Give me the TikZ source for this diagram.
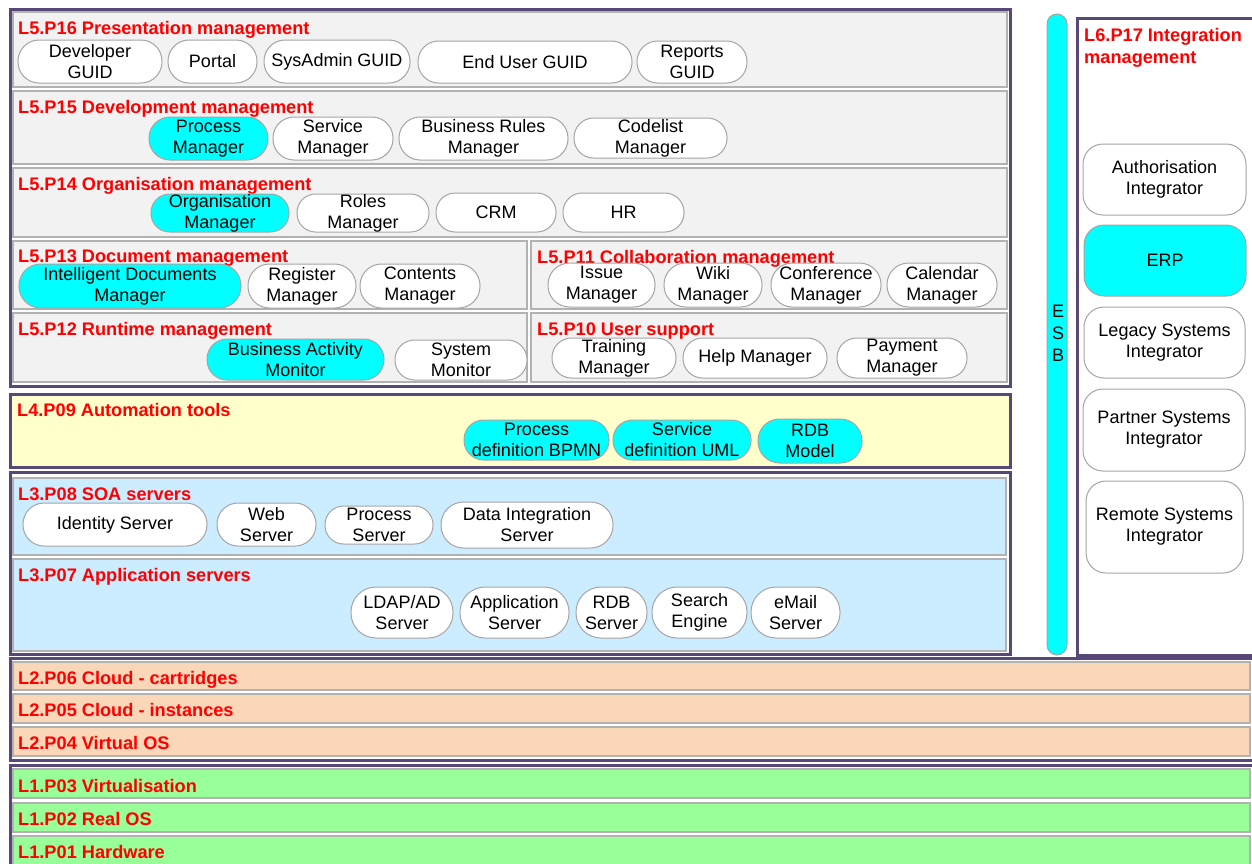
\documentclass[tikz,border=0pt]{standalone}
\usepackage{fontspec}
\setmainfont{Liberation Sans}
\definecolor{framec}{RGB}{88,72,120}
\definecolor{panelgray}{RGB}{242,242,242}
\definecolor{panelline}{RGB}{178,178,178}
\definecolor{nodegray}{RGB}{165,165,165}
\definecolor{cyanf}{RGB}{0,255,255}
\definecolor{yellowf}{RGB}{255,255,204}
\definecolor{bluef}{RGB}{204,236,255}
\definecolor{peachf}{RGB}{250,215,185}
\definecolor{greenf}{RGB}{153,255,153}
\definecolor{redt}{RGB}{255,0,0}
\newcommand\pill[8]{%
  \pgfmathsetmacro\pillW{#4-#2}\pgfmathsetmacro\pillH{#5-#3}%
  \pgfmathsetmacro\pillR{#8}%
  \pgfmathsetmacro\pillX{(#2+#4)/2}\pgfmathsetmacro\pillY{(#3+#5)/2}%
  \node[pillst, fill=#6, minimum width=\pillW pt, minimum height=\pillH pt,
        rounded corners=\pillR pt] (#1) at (\pillX,\pillY) {#7};}
\newcommand\pl[7]{\pill{#1}{#2}{#3}{#4}{#5}{#6}{#7}{(#5-#3)*0.49}}
\newcommand\ib[7]{\pill{#1}{#2}{#3}{#4}{#5}{#6}{#7}{20}}
\begin{document}
\begin{tikzpicture}[x=1pt,y=-1pt,
  framest/.style={draw=framec, line width=3pt},
  panel/.style={draw=panelline, line width=1.5pt},
  pillst/.style={draw=nodegray, line width=1pt, inner sep=0pt, align=center,
                 font=\fontsize{18}{21}\selectfont, text=black},
  ttl/.style={anchor=base west, inner sep=0pt, text=redt,
              font=\bfseries\fontsize{18.2}{22}\selectfont}]
\useasboundingbox (0,0) rectangle (1252,863);
\fill[white] (0,0) rectangle (1252,863);
\clip (0,0) rectangle (1252,863);

% ---------- L5 ----------
\draw[framest, fill=white] (10,9) rectangle (1010,386);
\draw[panel, fill=panelgray] (13,12) rectangle (1007,87);
\draw[panel, fill=panelgray] (13,91) rectangle (1007,164);
\draw[panel, fill=panelgray] (13,168) rectangle (1007,237);
\draw[panel, fill=panelgray] (13,241) rectangle (527,309);
\draw[panel, fill=panelgray] (531,241) rectangle (1007,309);
\draw[panel, fill=panelgray] (13,313) rectangle (527,382);
\draw[panel, fill=panelgray] (531,313) rectangle (1007,382);

\node[ttl] (t16) at (18,34) {L5.P16 Presentation management};
\node[ttl] (t15) at (18,113) {L5.P15 Development management};
\node[ttl] (t14) at (18,190) {L5.P14 Organisation management};
\node[ttl] (t13) at (18,262) {L5.P13 Document management};
\node[ttl] (t11) at (537,263) {L5.P11 Collaboration management};
\node[ttl] (t12) at (18,335) {L5.P12 Runtime management};
\node[ttl] (t10) at (537,335) {L5.P10 User support};

\pl{dev}{18}{40}{162}{83}{white}{Developer\\GUID}
\pl{portal}{168}{40}{257}{83}{white}{Portal}
\pl{sysadmin}{264}{40}{410}{83}{white}{SysAdmin GUID}
\pl{enduser}{418}{41}{632}{83}{white}{End User GUID}
\pl{reports}{637}{41}{747}{83}{white}{Reports\\GUID}

\pl{procmgr}{149}{117}{268}{160}{cyanf}{Process\\Manager}
\pl{svcmgr}{273}{117}{393}{160}{white}{Service\\Manager}
\pl{brm}{399}{117}{568}{160}{white}{Business Rules\\Manager}
\pl{codelist}{574}{118}{727}{158}{white}{Codelist\\Manager}

\pl{orgmgr}{151}{194}{289}{232}{cyanf}{Organisation\\Manager}
\pl{roles}{297}{194}{429}{232}{white}{Roles\\Manager}
\pl{crm}{436}{193}{556}{232}{white}{CRM}
\pl{hr}{563}{193}{684}{232}{white}{HR}

\pl{idm}{19}{264}{241}{308}{cyanf}{Intelligent Documents\\Manager}
\pl{register}{248}{264}{356}{308}{white}{Register\\Manager}
\pl{contents}{360}{264}{480}{308}{white}{Contents\\Manager}

\pl{issue}{548}{263}{655}{307}{white}{Issue\\Manager}
\pl{wiki}{664}{263}{762}{307}{white}{Wiki\\Manager}
\pl{conf}{771}{263}{881}{307}{white}{Conference\\Manager}
\pl{calendar}{887}{263}{997}{307}{white}{Calendar\\Manager}

\pl{bam}{207}{339}{384}{380}{cyanf}{Business Activity\\Monitor}
\pl{sysmon}{395}{340}{527}{380}{white}{System\\Monitor}

\pl{training}{552}{338}{676}{378}{white}{Training\\Manager}
\pl{help}{683}{338}{827}{378}{white}{Help Manager}
\pl{payment}{837}{338}{967}{378}{white}{Payment\\Manager}

% ---------- L4 ----------
\draw[framest, fill=yellowf] (10,394) rectangle (1010,467);
\node[ttl] (t09) at (17,416) {L4.P09 Automation tools};
\pl{bpmn}{464}{420}{609}{460}{cyanf}{Process\\definition BPMN}
\pl{uml}{613}{420}{751}{460}{cyanf}{Service\\definition UML}
\pl{rdbm}{758}{419}{862}{463}{cyanf}{RDB\\Model}

% ---------- L3 ----------
\draw[framest, fill=white] (10,472) rectangle (1010,654);
\draw[panel, fill=bluef] (13,478) rectangle (1006,555);
\draw[panel, fill=bluef] (13,559) rectangle (1006,651);
\node[ttl] (t08) at (18,500) {L3.P08 SOA servers};
\node[ttl] (t07) at (18,581) {L3.P07 Application servers};
\pl{identity}{23}{503}{207}{546}{white}{Identity Server}
\pl{web}{217}{503}{316}{546}{white}{Web\\Server}
\pl{procsrv}{325}{506}{433}{544}{white}{Process\\Server}
\pl{dis}{441}{502}{613}{548}{white}{Data Integration\\Server}
\pl{ldap}{351}{587}{453}{638}{white}{LDAP/AD\\Server}
\pl{appsrv}{460}{587}{569}{638}{white}{Application\\Server}
\pl{rdbs}{576}{587}{647}{638}{white}{RDB\\Server}
\pl{search}{652}{587}{747}{638}{white}{Search\\Engine}
\pl{email}{751}{587}{840}{638}{white}{eMail\\Server}

% ---------- L2 ----------
\draw[framest, fill=white] (10,658) rectangle (1262,760);
\draw[panel, fill=peachf] (13,662) rectangle (1250,690);
\draw[panel, fill=peachf] (13,694) rectangle (1250,723);
\draw[panel, fill=peachf] (13,727) rectangle (1250,756);
\node[ttl] (t06) at (18,684) {L2.P06 Cloud - cartridges};
\node[ttl] (t05) at (18,716) {L2.P05 Cloud - instances};
\node[ttl] (t04) at (18,749) {L2.P04 Virtual OS};

% ---------- L1 ----------
\draw[framest, fill=white] (10,765) rectangle (1262,880);
\draw[panel, fill=greenf] (13,769) rectangle (1250,798);
\draw[panel, fill=greenf] (13,803) rectangle (1250,832);
\draw[panel, fill=greenf] (13,836) rectangle (1250,875);
\node[ttl] (t03) at (18,792) {L1.P03 Virtualisation};
\node[ttl] (t02) at (18,825) {L1.P02 Real OS};
\node[ttl] (t01) at (18,858) {L1.P01 Hardware};

% ---------- ESB ----------
\draw[draw=nodegray, line width=1pt, fill=cyanf, rounded corners=10pt] (1047,14) rectangle (1067,655);
\node[inner sep=0pt, align=center, font=\fontsize{18}{22}\selectfont] (esb) at (1058,333) {E\\S\\B};

% ---------- L6 ----------
\draw[framest, fill=white] (1077,18) rectangle (1262,655);
\node[anchor=north west, inner sep=0pt, text=redt, align=left,
      font=\bfseries\fontsize{18.2}{22}\selectfont] (t17) at (1084,28) {L6.P17 Integration\\management};
\ib{auth}{1083}{144}{1246}{215}{white}{Authorisation\\Integrator}
\ib{erp}{1084}{225}{1246}{296}{cyanf}{ERP}
\ib{legacy}{1084}{307}{1245}{378}{white}{Legacy Systems\\Integrator}
\ib{partner}{1083}{389}{1245}{471}{white}{Partner Systems\\Integrator}
\ib{remote}{1086}{481}{1243}{573}{white}{Remote Systems\\Integrator}
\end{tikzpicture}
\end{document}
